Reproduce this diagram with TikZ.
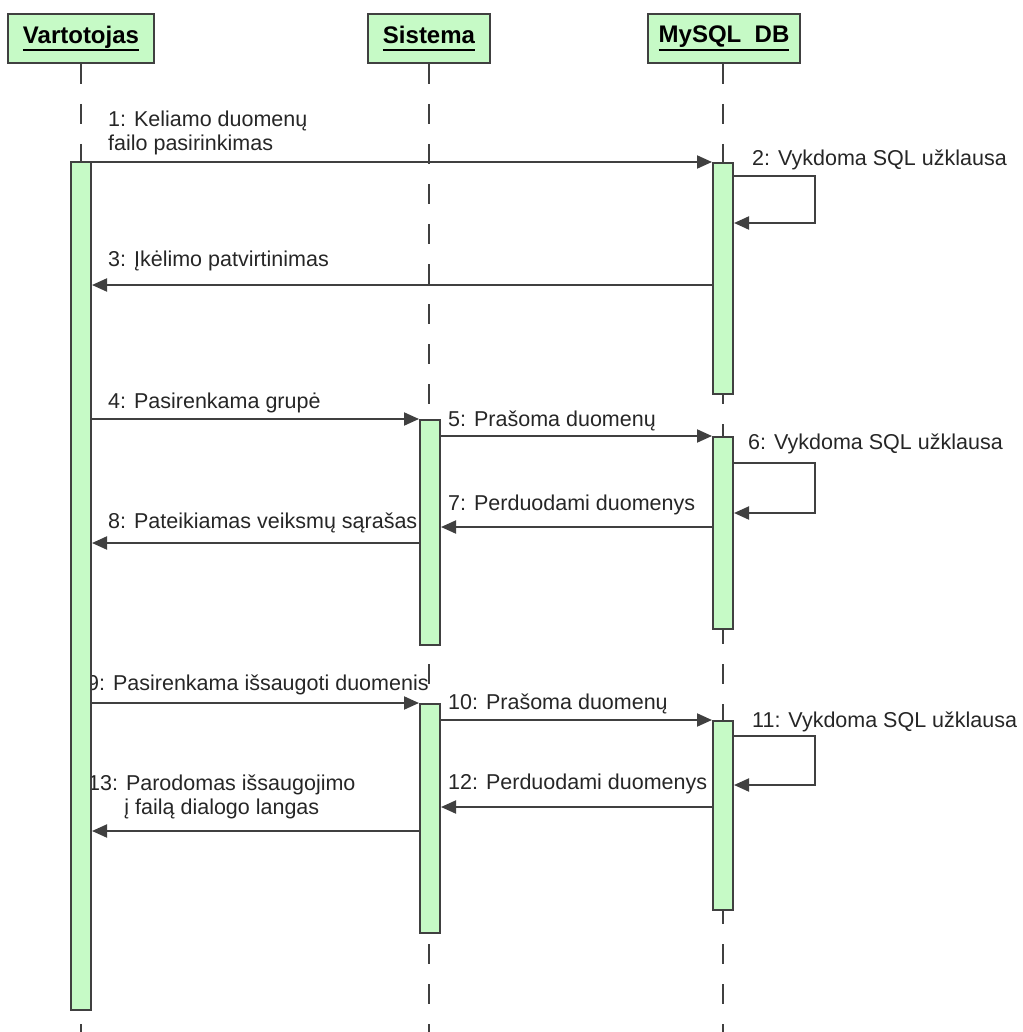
\documentclass[tikz,border=0pt]{standalone}
\usepackage{fontspec}
\setmainfont{Liberation Sans}
\usepackage{xcolor}
\usepackage{tikz}
\usetikzlibrary{arrows.meta,positioning}
\definecolor{actgreen}{RGB}{198,250,198}
\definecolor{linegray}{RGB}{64,64,64}
\newsavebox{\headbox}
\newcommand{\headname}[1]{\sbox{\headbox}{\bfseries #1}\usebox{\headbox}\llap{\rule[-8pt]{\wd\headbox}{2pt}}}

\begin{document}
\begin{tikzpicture}[
    x=1pt, y=-1pt,
    every node/.style={font=\fontsize{21.5}{24}\selectfont, text=black!85},
    head/.style={draw=linegray, line width=2pt, fill=actgreen, minimum height=49pt,
                 inner sep=0pt, font=\fontsize{24}{26}\selectfont, text=black},
    act/.style={draw=linegray, line width=2pt, fill=actgreen, minimum width=20pt,
                inner sep=0pt, anchor=north},
    life/.style={draw=linegray, line width=2pt, dash pattern=on 20pt off 20pt},
    msg/.style={-{Triangle[length=15pt, width=13pt]}, draw=linegray, line width=2pt},
    lbl/.style={anchor=base west, inner sep=0pt, align=left}
]
\useasboundingbox (0,0) rectangle (1022,1032);
\node[head, minimum width=146pt] (vart) at (81,38.5) {\headname{Vartotojas}};
\node[head, minimum width=122pt] (sist) at (429,38.5) {\headname{Sistema}};
\node[head, minimum width=152pt] (db) at (724,38.5) {\headname{MySQL\ \ DB}};
\coordinate (bottom) at (0,1032);
\draw[life] (vart.south) -- (vart.south |- bottom);
\draw[life] (sist.south) -- (sist.south |- bottom);
\draw[life] ([xshift=-1pt]db.south) -- ([xshift=-1pt]db.south |- bottom);

\node[lbl] (l1) at (108,151) {1: Keliamo duomenų\\failo pasirinkimas};
\node[lbl] (l2) at (752,166) {2: Vykdoma SQL užklausa};
\node[lbl] (l3) at (108,266) {3: Įkėlimo patvirtinimas};
\node[lbl] (l4) at (108,408) {4: Pasirenkama grupė};
\node[lbl] (l5) at (448,426) {5: Prašoma duomenų};
\node[lbl] (l6) at (748,449) {6: Vykdoma SQL užklausa};
\node[lbl] (l7) at (448,510) {7: Perduodami duomenys};
\node[lbl] (l8) at (108,528) {8: Pateikiamas veiksmų sąrašas};
\node[lbl] (l9) at (87,690) {9: Pasirenkama išsaugoti duomenis};
\node[lbl] (l10) at (448,709) {10: Prašoma duomenų};
\node[lbl] (l11) at (752,727) {11: Vykdoma SQL užklausa};
\node[lbl] (l12) at (448,789) {12: Perduodami duomenys};
\node[lbl, align=center] (l13) at (88,814) {13: Parodomas išsaugojimo\\į failą dialogo langas};

\node[act, minimum height=848pt] (va) at (81,161) {};
\node[act, minimum height=231pt] (d1) at (723,162) {};
\node[act, minimum height=225pt] (s1) at (430,419) {};
\node[act, minimum height=192pt] (d2) at (723,436) {};
\node[act, minimum height=229pt] (s2) at (430,703) {};
\node[act, minimum height=189pt] (d3) at (723,720) {};

\coordinate (m3) at ([yshift=-123pt]d1.north west);
\coordinate (m7) at ([yshift=-91pt]d2.north west);
\coordinate (m8) at ([yshift=-124pt]s1.north west);
\coordinate (m12) at ([yshift=-87pt]d3.north west);
\coordinate (m13) at ([yshift=-128pt]s2.north west);

\draw[msg] (va.east |- d1.north) -- (d1.north west);
\draw[msg] ([yshift=-14pt]d1.north east) -- ++(81,0) |- ([yshift=-61pt]d1.north east);
\draw[msg] (m3) -- (m3 -| va.east);
\draw[msg] (va.east |- s1.north) -- (s1.north west);
\draw[msg] (s1.east |- d2.north) -- (d2.north west);
\draw[msg] ([yshift=-27pt]d2.north east) -- ++(81,0) |- ([yshift=-77pt]d2.north east);
\draw[msg] (m7) -- (m7 -| s1.east);
\draw[msg] (m8) -- (m8 -| va.east);
\draw[msg] (va.east |- s2.north) -- (s2.north west);
\draw[msg] (s2.east |- d3.north) -- (d3.north west);
\draw[msg] ([yshift=-16pt]d3.north east) -- ++(81,0) |- ([yshift=-65pt]d3.north east);
\draw[msg] (m12) -- (m12 -| s2.east);
\draw[msg] (m13) -- (m13 -| va.east);
\end{tikzpicture}
\end{document}
